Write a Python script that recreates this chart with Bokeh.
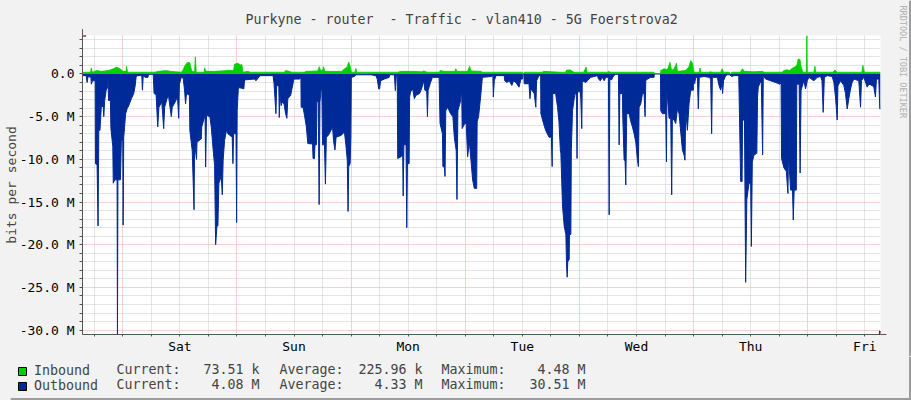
import math
from bokeh.plotting import figure
from bokeh.layouts import column, row
from bokeh.models import (Range1d, FixedTicker, Label, Legend, LegendItem, Arrow,
                          NormalHead, ColumnDataSource, Span)
from bokeh.embed import file_html
from bokeh.resources import INLINE

# ---------------- data (hours from Saturday 00:00, Mbit/s) ----------------
day_labels = ["Sat", "Sun", "Mon", "Tue", "Wed", "Thu", "Fri"]
day_noon_hours = [12, 36, 60, 84, 108, 132, 156]
day_midnight_hours = [0, 24, 48, 72, 96, 120, 144]

y_major_ticks = [-30, -25, -20, -15, -10, -5, 0]
y_major_labels = ["-30.0 M", "-25.0 M", "-20.0 M", "-15.0 M", "-10.0 M", "-5.0 M", "0.0"]

inbound_hours = [
    -8.47, -6.8, -6.6, -6.4, -5.5, -4.5, -3.0, -2.0, -1.3, -0.6, 0.1, 0.7, 0.8, 1.0, 1.8,
    6.7, 7.5, 9.2, 10.0, 12.3, 12.7, 13.1, 13.6, 14.1, 14.5, 15.1, 15.25, 15.45, 17.1,
    17.2, 17.5, 19.3, 22.1, 23.3, 23.5, 24.2, 24.9, 25.0, 25.3, 26.3, 26.8, 34.0, 34.2,
    35.0, 35.5, 38.2, 38.5, 41.0, 41.3, 41.6, 42.0, 42.2, 42.5, 46.0, 47.2, 47.5, 47.8,
    48.05, 48.8, 49.0, 49.2, 52.0, 57.8, 58.5, 61.0, 62.8, 63.3, 64.0, 66.6, 66.7, 67.5,
    69.8, 70.0, 70.3, 72.5, 72.9, 73.2, 75.3, 75.6, 84.0, 84.1, 84.3, 84.4, 88.2, 88.5,
    92.1, 93.1, 93.3, 94.2, 94.5, 94.9, 96.9, 97.4, 97.6, 101.9, 102.1, 102.5, 104.0,
    104.3, 108.2, 108.5, 111.7, 111.75, 113.05, 113.1, 113.8, 114.5, 115.05, 115.4,
    115.9, 116.4, 116.6, 118.3, 119.0, 119.4, 119.8, 120.1, 121.2, 121.35, 121.5, 123.2,
    123.5, 124.0, 125.7, 126.0, 126.3, 127.6, 127.7, 127.95, 128.0, 129.8, 130.3, 130.6,
    132.7, 134.5, 134.8, 138.6, 139.0, 139.6, 140.2, 140.6, 141.2, 141.7, 142.0, 142.4,
    142.6, 143.0, 143.7, 143.8, 143.9, 145.3, 145.5, 145.7, 149.3, 149.7, 150.2, 155.4,
    155.6, 155.9, 159.3]
inbound_mbps = [
    0.2, 0.2, 0.7, 0.2, 0.4, 0.3, 0.4, 0.6, 0.8, 0.6, 0.3, 0.3, 0.9, 0.2, 0.2,
    0.2, 0.3, 0.4, 0.3, 0.2, 0.5, 1.0, 1.35, 1.3, 0.3, 0.3, 2.0, 0.2, 0.2,
    0.7, 0.3, 0.3, 0.4, 0.4, 1.15, 1.25, 1.0, 1.15, 0.2, 0.3, 0.2, 0.2, 0.4,
    0.3, 0.2, 0.2, 0.3, 0.35, 0.85, 0.4, 0.4, 0.85, 0.3, 0.3, 0.85, 1.4, 0.9,
    0.2, 0.2, 0.65, 0.2, 0.2, 0.2, 0.3, 0.3, 0.25, 0.35, 0.2, 0.2, 0.4, 0.3,
    0.3, 0.6, 0.3, 0.3, 0.9, 0.35, 0.3, 0.2, 0.2, 0.0, 0.0, 0.2, 0.2, 0.3,
    0.2, 0.2, 0.45, 0.45, 0.3, 0.2, 0.2, 0.8, 0.2, 0.2, 0.3, 0.2, 0.2,
    0.2, 0.2, 0.2, 0.2, 0.0, 0.0, 0.4, 0.6, 0.5, 1.35, 0.4,
    0.6, 1.25, 0.3, 0.4, 0.8, 1.55, 1.25, 0.2, 0.2, 0.7, 0.2, 0.2,
    0.25, 0.2, 0.2, 0.6, 0.2, 0.2, 0.0, 0.0, 0.2, 0.2, 0.6, 0.3,
    0.25, 0.3, 0.2, 0.2, 0.4, 0.5, 0.4, 0.6, 0.8, 1.0, 1.75, 1.65,
    0.8, 0.2, 0.2, 4.48, 0.2, 0.2, 0.9, 0.2, 0.2, 0.45, 0.2, 0.2,
    1.0, 0.2, 0.2]

outbound_hours = [
    -8.47, -7.7, -7.5, -7.3, -6.7, -6.6, -6.4, -5.8, -5.74, -5.4, -5.2, -5.05, -4.8, -4.5,
    -4.1, -4.0, -3.8, -3.5, -3.2, -3.1, -3.0, -2.6, -2.5, -2.1, -2.0, -1.7, -1.2, -1.12,
    -1.02, -0.5, -0.3, 0.0, 0.07, 0.2, 0.6, 1.0, 1.12, 1.8, 2.3, 2.6, 2.8, 3.0, 4.0, 4.13,
    4.3, 4.7, 5.3, 5.4, 6.4, 6.58, 7.0, 7.35, 7.6, 8.2, 8.6, 8.8, 9.3, 9.6, 10.2, 10.4,
    11.0, 11.5, 11.76, 11.9, 12.3, 12.7, 13.0, 13.2, 13.4, 14.0, 14.1, 14.6, 14.98, 15.1,
    15.5, 15.6, 16.5, 16.6, 17.3, 17.42, 17.6, 18.3, 18.6, 19.0, 19.3, 19.52, 19.8, 20.0,
    20.2, 20.7, 20.92, 21.1, 21.4, 21.8, 22.1, 23.0, 23.16, 23.3, 23.8, 23.93, 24.05,
    24.3, 25.3,
    25.45, 25.6, 27.7, 28.0, 28.7, 29.0, 31.6, 31.8, 32.2, 32.35, 32.8, 32.9, 33.05, 33.3,
    33.5, 33.9, 34.2, 34.5, 34.7, 35.3, 35.5, 35.9, 36.0, 37.2, 37.45, 37.5, 37.9, 38.2,
    38.6, 38.9, 39.9, 40.0, 40.3, 40.4, 40.7, 40.8, 41.1, 41.28, 41.45, 41.7, 41.85, 42.0,
    42.4, 42.6, 42.8, 43.2, 43.6, 44.1, 44.3, 44.6, 44.85, 45.9, 46.6, 46.9, 47.2, 47.36,
    47.5, 47.8, 47.95, 48.05, 48.7, 49.0, 52.2, 53.2, 53.5, 53.8, 54.0, 54.2, 55.0, 56.0,
    56.1, 57.1, 57.3, 57.5, 57.7,
    57.8, 58.5, 58.85, 58.95, 59.1, 59.55, 59.7, 59.85, 60.2, 60.3, 60.5, 60.95, 61.3,
    61.65, 62.4, 62.8, 63.3, 63.5, 63.9, 64.05, 64.2, 64.7, 65.1, 66.5, 66.7, 67.2, 67.3,
    67.6, 67.75, 67.9, 68.3, 68.9, 69.4, 69.7, 70.1, 70.26, 70.45, 70.96, 71.25, 71.35,
    71.9, 72.2, 72.5, 72.85, 73.2, 73.55, 73.9, 74.4, 74.5, 74.8, 75.3, 75.6, 77.5, 77.8,
    77.9, 78.1, 78.45, 80.2, 80.3, 80.75, 81.24, 81.8, 82.15, 82.64, 83.3, 83.7, 84.0,
    84.1, 84.3, 84.4, 85.4, 85.6, 85.8, 86.5, 86.84, 87.0, 87.5, 87.85, 87.9, 88.45, 88.9,
    89.6, 90.1, 90.27, 90.4, 91.0, 91.4, 91.7, 92.0,
    92.1, 92.45, 92.8, 93.15, 93.3, 93.43, 93.55, 93.85, 93.9, 94.2, 94.3, 94.55, 95.0,
    95.25, 95.4, 95.5, 95.6, 96.2, 96.3, 96.5, 96.6, 97.35, 98.0, 98.4, 99.8, 100.0, 100.4,
    100.85, 101.2, 101.55, 102.1, 102.25, 102.4, 102.74, 103.2, 103.65, 104.2, 104.35,
    104.5, 105.05, 105.1, 105.4, 105.6, 105.75, 105.95, 106.45, 106.8, 107.15, 107.5,
    107.85, 108.2, 108.4, 108.55, 108.9, 109.25, 109.6, 109.8, 109.95, 110.3, 111.0,
    111.7, 111.75, 113.05, 113.1, 113.45, 114.15, 114.3, 114.4, 114.85, 115.2, 115.4,
    115.55, 115.9, 116.25, 116.6, 116.95, 117.3, 117.65, 118.0, 118.2, 118.35, 118.7,
    119.05, 119.4, 119.95, 120.0, 120.23, 120.44, 120.8, 121.0, 121.2, 122.2, 123.24,
    123.6, 123.8, 123.95, 125.0, 125.35, 125.7,
    126.0, 126.1, 126.3, 126.75, 127.1, 127.6, 128.0, 128.5, 129.5, 129.9, 130.2, 130.3,
    130.7, 130.95, 131.2, 131.65, 132.0, 132.15, 132.35, 132.7, 133.3, 133.45, 133.6,
    134.0, 134.24, 134.52, 134.66, 135.15, 136.2, 137.25, 138.16, 138.4, 138.5, 139.0,
    139.5, 139.84, 139.95, 140.4, 140.8, 140.96, 141.15, 141.6, 141.7, 142.2, 142.4,
    142.6, 143.2, 143.54, 143.9, 144.25, 145.3, 146.0, 146.7, 147.0, 147.25, 147.5, 148.1,
    149.14, 149.5, 149.84, 150.2, 150.35, 150.9, 151.6, 151.94, 152.3, 152.64, 153.0,
    153.34, 153.7, 154.74, 155.1, 155.3, 155.8, 156.5, 156.84, 157.54, 157.9, 158.24,
    158.45, 158.94, 159.15, 159.3]
outbound_mbps = [
    0.2, 0.2, 1.0, 0.3, 0.4, 1.2, 0.8, 0.8, 10.5, 10.7, 17.8, 6.6, 6.6, 3.7,
    3.9, 5.0, 3.1, 1.9, 1.6, 0.4, 3.1, 3.1, 6.4, 8.5, 12.8, 12.4, 12.4, 30.51,
    12.4, 12.4, 7.8, 7.8, 17.7, 7.4, 4.65, 3.9, 3.9, 2.9, 2.3, 1.4, 0.4, 0.2, 0.2, 1.9,
    0.2, 0.4, 0.4, 0.05, 0.05, 2.3, 2.4, 6.2, 3.9, 3.3, 6.4, 3.9, 2.9, 2.5, 5.0, 3.9,
    3.3, 2.7, 5.2, 1.2, 0.4, 0.5, 2.0, 3.5, 2.3, 2.5, 6.6, 9.0, 15.9, 8.1,
    10.0, 8.0, 7.6, 6.2, 4.85, 10.9, 4.85, 5.0, 6.2, 8.9, 10.7, 20.0, 17.8, 17.8,
    12.8, 12.0, 14.15, 10.1, 7.8, 6.6, 7.0, 7.4, 10.5, 7.0, 7.0, 17.4, 4.3,
    1.6, 1.7,
    1.75, 0.7, 0.6, 0.8, 0.3, 0.2, 0.2, 1.15, 4.65, 1.35, 1.4, 5.1, 2.5, 3.7,
    3.3, 3.5, 4.6, 5.2, 2.9, 2.5, 1.9, 0.8, 0.6, 0.6, 0.4, 3.9, 3.9, 4.85,
    6.2, 8.15, 8.2, 9.9, 9.9, 8.3, 8.3, 3.2, 3.3, 15.3, 3.3, 1.8, 1.8, 8.3,
    8.3, 12.9, 7.4, 7.2, 6.8, 6.2, 7.8, 8.9, 7.4, 7.2, 6.8, 8.3, 10.1, 16.1,
    10.85, 10.5, 7.4, 0.4, 0.3, 0.1, 0.1, 0.2, 0.6, 1.75, 1.75, 0.8, 0.6, 0.4,
    0.1, 0.1, 1.95, 0.2, 0.2,
    9.9, 9.7, 9.5, 14.3, 8.3, 8.3, 18.0, 10.5, 10.5, 2.7, 2.1, 1.75, 2.9,
    2.5, 2.3, 1.75, 0.8, 1.9, 2.0, 5.0, 1.9, 1.0, 0.4, 0.4, 5.8, 7.0, 10.85,
    10.9, 12.0, 4.3, 3.9, 4.65, 5.0, 7.4, 9.0, 14.7, 4.3, 3.3, 1.9, 6.4,
    5.8, 5.8, 9.7, 7.95, 10.1, 12.4, 13.4, 13.4, 5.6, 5.0, 2.3, 0.4, 0.3, 0.2,
    2.7, 0.8, 0.2, 0.2, 0.8, 1.0, 0.8, 1.35, 0.8, 1.0, 1.55, 0.6, 0.6,
    0.0, 0.0, 1.15, 1.15, 2.9, 1.75, 2.3, 3.9, 0.8, 0.2, 0.2, 4.65, 5.8, 6.6,
    7.4, 7.4, 10.85, 2.3, 2.3, 3.9, 5.6, 9.0,
    9.3, 15.5, 17.8, 18.8, 22.5, 23.8, 22.0, 21.7, 18.8, 18.8, 9.0, 4.3, 2.5,
    2.1, 3.0, 9.9, 2.1, 2.1, 3.0, 6.4, 0.8, 1.0, 0.6, 0.4, 0.2, 0.6, 0.8,
    0.4, 0.8, 0.4, 0.4, 16.5, 0.6, 0.7, 0.2, 0.05, 0.05, 8.3,
    2.3, 2.3, 4.65, 10.1, 10.1, 13.0, 4.65, 4.65, 5.6, 6.2, 7.0,
    8.0, 10.1, 10.85, 3.9, 3.5, 2.3, 2.3, 5.0, 0.8, 0.6, 0.4,
    0.4, 0.0, 0.0, 4.3, 4.65, 4.65, 10.3, 1.9, 5.2, 5.2, 14.15,
    5.2, 5.4, 5.8, 4.1, 4.65, 6.8, 8.9, 9.5, 10.1, 4.3, 6.6,
    3.5, 1.9, 1.9, 0.4, 1.15, 0.4, 0.4, 4.1, 0.4, 0.3, 0.4,
    0.6, 7.0, 0.4, 0.4, 1.35, 1.9,
    1.0, 2.3, 0.8, 0.2, 0.1, 0.1, 0.3, 0.2, 0.2, 12.6, 12.6, 5.4,
    5.4, 24.4, 14.7, 12.8, 12.8, 20.2, 10.3, 9.5, 9.3, 2.7, 1.55,
    1.0, 1.0, 9.5, 0.2, 0.6, 0.8, 1.0, 1.2, 1.0, 9.9, 11.0,
    11.4, 14.0, 9.5, 13.6, 13.6, 17.1, 13.6, 13.6, 1.2, 1.2, 11.6,
    1.9, 0.8, 1.75, 0.8, 0.4, 0.8, 0.4, 0.3, 0.8, 4.5, 0.4, 0.2,
    0.3, 1.0, 2.7, 5.4, 1.4, 0.8, 1.35, 2.3, 4.1, 2.9, 1.75,
    1.0, 0.6, 0.8, 3.9, 0.8, 0.4, 1.55, 1.2, 1.35, 1.55, 2.7,
    0.6, 0.6, 4.1, 4.1]

legend_names = ["Inbound", "Outbound"]
stat_names = ["Current:", "Average:", "Maximum:"]
stat_current = ["73.51 k", "4.08 M"]
stat_average = ["225.96 k", "4.33 M"]
stat_maximum = ["4.48 M", "30.51 M"]

title_text = "Purkyne - router \u00a0- Traffic - vlan410 - 5G Foerstrova2"
y_label = "bits per second"
credit_text = "RRDTOOL / TOBI OETIKER"

# ---------------- styling ----------------
FONT = "DejaVu Sans Mono"
BG = "#f2f2f2"
GREEN = "#00cf00"
BLUE = "#002a97"
AXIS = "#555555"
MGRID = "#eba3a3"
GRID = "#c9c9c9"
ARROW = "#7d1212"
SHADE = "#9c9c9c"

x_start, x_end = -8.47, 159.3
y_low, y_high = -30.51, 4.5


def no_align(fig):
    try:
        fig.frame_align = False
    except Exception:
        pass


# ---------------- main chart ----------------
p = figure(width=895, height=356, output_backend="svg", toolbar_location=None,
           x_range=Range1d(x_start, x_end), y_range=Range1d(y_low, y_high),
           min_border_left=81, min_border_right=15, min_border_top=35,
           min_border_bottom=20, background_fill_color="white",
           border_fill_color=BG, outline_line_color=None)
no_align(p)

src_in = ColumnDataSource(dict(h=inbound_hours, v=inbound_mbps))
src_out = ColumnDataSource(dict(h=outbound_hours, v=[-v for v in outbound_mbps]))

p.varea(x="h", y1=0, y2="v", source=src_out, fill_color=BLUE)
p.line(x="h", y="v", source=src_out, line_color=BLUE, line_width=1)
p.varea(x="h", y1=0, y2="v", source=src_in, fill_color=GREEN)
p.line(x="h", y="v", source=src_in, line_color=GREEN, line_width=0.8)

p.title.text = title_text
p.title.text_font = FONT
p.title.text_font_size = "13.3px"
p.title.text_font_style = "normal"
p.title.align = "left"
p.title.offset = 163
p.title.standoff = 17

p.yaxis.ticker = FixedTicker(ticks=y_major_ticks,
                             minor_ticks=[v for v in range(-30, 5) if v % 5 != 0])
p.yaxis.major_label_overrides = dict(zip(y_major_ticks, y_major_labels))
p.yaxis.axis_label = y_label
p.yaxis.axis_label_text_font = FONT
p.yaxis.axis_label_text_font_size = "13px"
p.yaxis.axis_label_text_font_style = "normal"
p.yaxis.axis_label_standoff = -2
p.yaxis.major_label_standoff = 5
p.yaxis.major_tick_out = 3
p.yaxis.major_tick_in = 0
p.yaxis.minor_tick_out = 3
p.yaxis.minor_tick_in = 0
p.yaxis.major_tick_line_color = AXIS

six_hourly = [h for h in range(-6, 160, 6)]
p.xaxis.ticker = FixedTicker(ticks=day_noon_hours, minor_ticks=six_hourly)
p.xaxis.major_label_overrides = dict(zip(day_noon_hours, day_labels))
p.xaxis.major_tick_line_color = None
p.xaxis.major_tick_out = 2
p.xaxis.major_label_standoff = 2
p.xaxis.minor_tick_out = 2
p.xaxis.minor_tick_in = 0

for ax in (p.xaxis, p.yaxis):
    ax.axis_line_color = AXIS
    ax.minor_tick_line_color = AXIS
    ax.major_label_text_font = FONT
    ax.major_label_text_font_size = "13px"
    ax.major_label_text_color = "black"

p.ygrid.grid_line_color = MGRID
p.ygrid.grid_line_dash = "1 1"
p.ygrid.minor_grid_line_color = GRID
p.ygrid.minor_grid_line_dash = "1 1"
p.xgrid.ticker = FixedTicker(ticks=day_midnight_hours,
                             minor_ticks=[h for h in six_hourly if h % 24 != 0])
p.xgrid.grid_line_color = MGRID
p.xgrid.grid_line_dash = "1 1"
p.xgrid.minor_grid_line_color = GRID
p.xgrid.minor_grid_line_dash = "1 1"

p.add_layout(Arrow(end=NormalHead(size=7, fill_color=ARROW, line_color=ARROW),
                   x_start=x_end, y_start=y_low, x_end=x_end + 1.25, y_end=y_low,
                   line_color=AXIS, line_width=1))
p.add_layout(Arrow(end=NormalHead(size=7, fill_color=ARROW, line_color=ARROW),
                   x_start=x_start, y_start=y_high, x_end=x_start, y_end=y_high + 0.75,
                   line_color=AXIS, line_width=1))

# ---------------- right strip with the credit ----------------
side = figure(width=16, height=356, output_backend="svg", toolbar_location=None,
              x_range=Range1d(0, 16), y_range=Range1d(356, 0),
              x_axis_location=None, y_axis_location=None,
              min_border_left=0, min_border_right=0, min_border_top=0,
              min_border_bottom=0, background_fill_color=BG, border_fill_color=BG,
              outline_line_color=None)
no_align(side)
side.grid.visible = False
side.add_layout(Label(x=7, y=5, angle=-math.pi / 2, text=credit_text,
                      text_font=FONT, text_font_size="8.5px", text_color="#b0b0b0",
                      text_baseline="middle", text_align="left"))
side.add_layout(Span(location=14.5, dimension="height", line_color=SHADE,
                     line_width=2))

# ---------------- legend strip ----------------
leg = figure(width=911, height=44, output_backend="svg", toolbar_location=None,
             x_range=Range1d(10, 911), y_range=Range1d(44, 0),
             x_axis_location=None, y_axis_location=None,
             min_border_left=10, min_border_right=0, min_border_top=0,
             min_border_bottom=0, background_fill_color=BG, border_fill_color=BG,
             outline_line_color=None)
no_align(leg)
leg.grid.visible = False
# swatches for the legend keys (kept outside the visible range of this strip)
key_in = leg.quad(left=[-60], right=[-50], top=[0], bottom=[10], fill_color=GREEN,
                  line_color="black", line_width=1)
key_out = leg.quad(left=[-60], right=[-50], top=[0], bottom=[10], fill_color=BLUE,
                   line_color="black", line_width=1)
legend = Legend(items=[LegendItem(label=legend_names[0], renderers=[key_in]),
                       LegendItem(label=legend_names[1], renderers=[key_out])],
                location="top_left", orientation="vertical", glyph_width=10,
                glyph_height=10, label_standoff=7, spacing=0, padding=0, margin=7,
                border_line_color=None, background_fill_alpha=0, label_height=10,
                label_text_font=FONT, label_text_font_size="13.3px")
leg.add_layout(legend)
leg.add_layout(Span(location=909.5, dimension="height", line_color=SHADE, line_width=2))
leg.add_layout(Span(location=42.5, dimension="width", line_color=SHADE, line_width=2))

row_y = [13, 28]
name_x = [116, 279, 441]
value_right_x = [259, 422, 585]
stat_values = [stat_current, stat_average, stat_maximum]
for i in range(2):
    for j in range(3):
        leg.add_layout(Label(x=name_x[j], y=row_y[i], text=stat_names[j],
                             text_font=FONT, text_font_size="13.3px",
                             text_baseline="middle", text_align="left"))
        leg.add_layout(Label(x=value_right_x[j], y=row_y[i], text=stat_values[j][i],
                             text_font=FONT, text_font_size="13.3px",
                             text_baseline="middle", text_align="right"))

layout = column(row(p, side, spacing=0, styles={"background-color": BG}), leg,
                spacing=0, styles={"background-color": BG})
open("out.html", "w").write(file_html(layout, INLINE))
